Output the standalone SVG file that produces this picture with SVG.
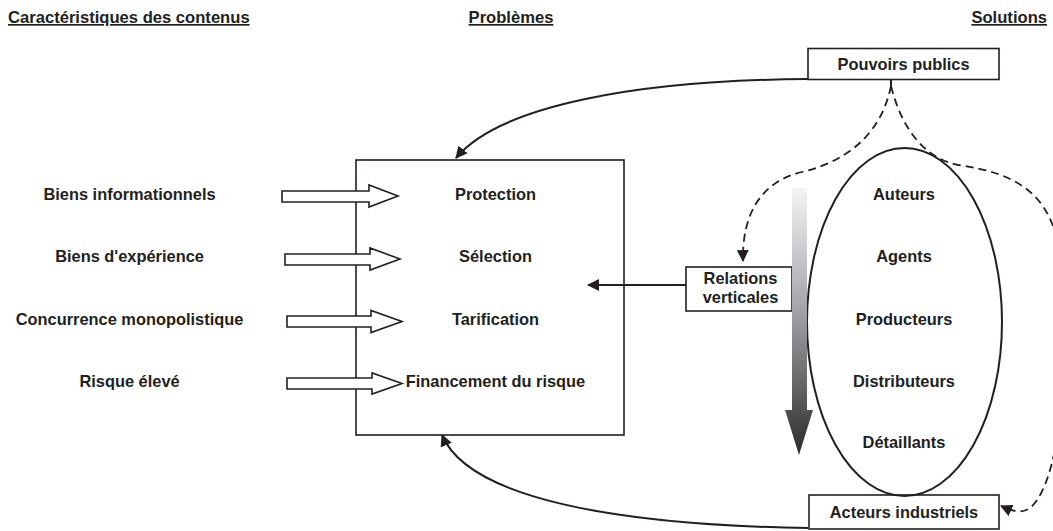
<svg xmlns="http://www.w3.org/2000/svg" width="1053" height="531" viewBox="0 0 1053 531">
<style>
text{font-family:"Liberation Sans",Arial,sans-serif;font-weight:bold;font-size:16.4px;fill:#231f20}
.c{text-anchor:middle}
.h{text-decoration:underline;font-size:16.6px}
.box{fill:#fff;stroke:#231f20;stroke-width:1.6}
.blk{fill:#fff;stroke:#231f20;stroke-width:1.6;stroke-linejoin:miter}
.sol{fill:none;stroke:#231f20;stroke-width:2}
.dash{fill:none;stroke:#231f20;stroke-width:1.8;stroke-dasharray:8 5}
</style>
<defs>
<marker id="ah" viewBox="0 0 12 12" refX="11" refY="6" markerWidth="12" markerHeight="12" markerUnits="userSpaceOnUse" orient="auto">
<path d="M0,0 L12,6 L0,12 z" fill="#231f20"/>
</marker>
<marker id="ahd" viewBox="0 0 12 12" refX="11" refY="6" markerWidth="12" markerHeight="12" markerUnits="userSpaceOnUse" orient="auto">
<path d="M0,0 L12,6 L0,12 z" fill="#231f20"/>
</marker>
<linearGradient id="g" x1="0" y1="188" x2="0" y2="455" gradientUnits="userSpaceOnUse">
<stop offset="0" stop-color="#f4f4f6"/>
<stop offset="0.45" stop-color="#a4a5a9"/>
<stop offset="1" stop-color="#2b2b2b"/>
</linearGradient>
</defs>

<g id="headers">
<text class="h" x="8" y="23">Caractéristiques des contenus </text>
<text class="h c" x="511" y="23">Problèmes </text>
<text class="h" x="1047" y="23" text-anchor="end">Solutions</text>
</g>

<g id="problemes">
<rect class="box" x="356" y="160" width="268" height="275"/>
<text class="c" x="495.5" y="200">Protection</text>
<text class="c" x="495.5" y="262">Sélection</text>
<text class="c" x="495.5" y="325">Tarification</text>
<text class="c" x="495.5" y="387">Financement du risque</text>
</g>

<g id="caracteristiques">
<text class="c" x="129.5" y="199.5">Biens informationnels</text>
<text class="c" x="129.5" y="262">Biens d'expérience</text>
<text class="c" x="129.5" y="324.5">Concurrence monopolistique</text>
<text class="c" x="129.5" y="386.5">Risque élevé</text>
</g>

<g id="block-arrows">
<polygon class="blk" points="282,191 369,191 369,185 398,196 369,207 369,202 282,202"/>
<polygon class="blk" points="285,254 370,254 370,248 400,259 370,270 370,265 285,265"/>
<polygon class="blk" points="287,316 371,316 371,310.5 402,321.5 371,332.5 371,327 287,327"/>
<polygon class="blk" points="287,378 372,378 372,373 402,383.5 372,394 372,389 287,389"/>
</g>

<g id="pouvoirs-publics">
<rect class="box" x="808" y="48.5" width="191" height="31"/>
<text class="c" x="903.5" y="70">Pouvoirs publics</text>
</g>

<g id="acteurs-industriels">
<rect class="box" x="809" y="495" width="190" height="34"/>
<text class="c" x="904" y="517.5">Acteurs industriels</text>
</g>

<g id="relations-verticales">
<rect class="box" x="686" y="267" width="106" height="44"/>
<text class="c" x="740.5" y="283.5">Relations</text>
<text class="c" x="740.5" y="302.5">verticales</text>
</g>

<g id="chaine">
<ellipse cx="904.5" cy="322" rx="97.5" ry="174" fill="none" stroke="#231f20" stroke-width="2"/>
<text class="c" x="904" y="200">Auteurs</text>
<text class="c" x="904" y="262">Agents</text>
<text class="c" x="904" y="325">Producteurs</text>
<text class="c" x="904" y="387">Distributeurs</text>
<text class="c" x="904" y="448">Détaillants</text>
</g>

<g id="connectors">
<polygon id="vertical-arrow" points="792,188 807,188 807,410 813,410 799,455 785,410 792,410" fill="url(#g)"/>
<path class="sol" d="M808,79 C640,80 500,105 456,158" marker-end="url(#ah)"/>
<path class="sol" d="M808,528 C610,525 468,497 442,435" marker-end="url(#ah)"/>
<path class="sol" d="M686,285 L588,285" stroke-width="2.6" marker-end="url(#ah)"/>
<path class="sol" d="M891,79 L891,87" stroke-width="2.6"/>
<path class="dash" d="M891,86 C882,130 852,160 802,172 C760,182 742,215 743,261" marker-end="url(#ahd)"/>
<path class="dash" d="M891,86 C902,130 925,158 958,165 C1010,172 1046,190 1057,240 L1059,420 C1056,455 1046,495 1030,508 C1021,514 1012,511 1001,506" marker-end="url(#ahd)"/>
</g>
</svg>
